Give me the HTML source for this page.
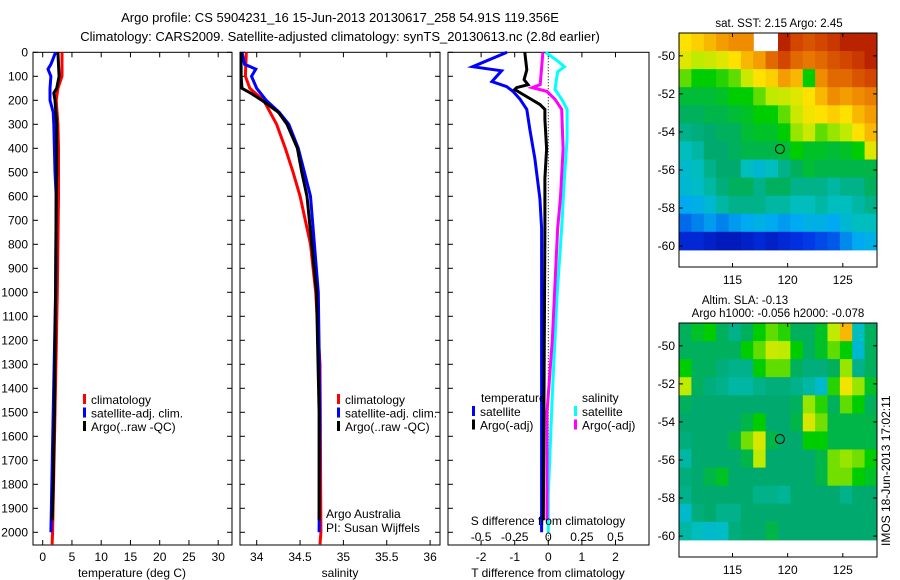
<!DOCTYPE html>
<html><head><meta charset="utf-8"><style>
html,body{margin:0;padding:0;background:#fff;}
svg{display:block;font-family:"Liberation Sans",sans-serif;font-size:12px;}
</style></head><body>
<svg id="fig" width="900" height="580" viewBox="0 0 900 580" xmlns="http://www.w3.org/2000/svg">
<text x="340" y="22" text-anchor="middle" font-size="13">Argo profile: CS 5904231_16 15-Jun-2013 20130617_258 54.91S 119.356E</text>
<text x="340" y="41" text-anchor="middle" font-size="13">Climatology: CARS2009. Satellite-adjusted climatology: synTS_20130613.nc (2.8d earlier)</text>
<g id="p1"></g>
<g id="p2"></g>
<g id="p3"></g>
<g id="m1"></g>
<g id="m2"></g>
<text transform="translate(890,546) rotate(-90)" font-size="12">IMOS 18-Jun-2013 17:02:11</text>
</svg>
<script>
// ---- profile data ----
const tempClimDepth=[0,100,150,200,300,400,600,1000,1500,2000,2050];
const tempClim=[3.3,3.3,2.6,2.3,2.6,2.7,2.7,2.5,2.1,1.7,1.6];
const tempSatDepth=[0,50,70,100,150,200,250,300,500,600,1000,1500,2000];
const tempSat=[2.2,1.4,0.9,1.4,1.25,1.25,1.8,1.9,2.1,2.3,2.2,1.8,1.4];
const tempArgoDepth=[0,100,150,170,200,300,500,600,1000,1500,1800,1950];
const tempArgo=[2.6,2.8,2.4,1.9,2.1,2.4,2.4,2.3,2.2,2.0,1.8,1.6];
const salClimDepth=[0,100,150,200,300,400,500,600,800,1000,1300,2000,2050];
const salClim=[33.88,33.87,33.92,34.08,34.23,34.33,34.42,34.5,34.62,34.68,34.73,34.74,34.73];
const salSatDepth=[0,50,70,100,150,200,250,300,400,500,600,1000,1500,2000];
const salSat=[33.83,33.86,33.99,33.94,34.0,34.11,34.26,34.37,34.48,34.55,34.62,34.71,34.73,34.72];
const salArgoDepth=[0,100,150,170,200,250,300,400,500,600,1000,1500,1950];
const salArgo=[33.82,33.82,33.83,33.93,34.06,34.25,34.35,34.47,34.52,34.58,34.69,34.72,34.72];
const dTSatDepth=[0,60,77,122,143,163,196,238,320,444,610,733,1200,2000];
const dTSat=[-1.23,-2.25,-1.39,-1.68,-1.24,-1.05,-0.84,-0.64,-0.55,-0.4,-0.25,-0.2,-0.2,-0.2];
const dTArgoDepth=[0,73,114,135,147,155,176,217,238,279,402,525,731,1200,1950];
const dTArgo=[-0.7,-0.64,-0.72,-0.6,-0.94,-1.0,-0.75,-0.25,-0.1,-0.1,-0.05,-0.1,-0.1,-0.12,-0.15];
const dSSatDepth=[0,32,60,81,114,155,196,238,361,525,731,1019,1431,1843,2000];
const dSSat=[-0.02,0.06,0.12,0.07,0.06,0.05,0.1,0.14,0.14,0.12,0.1,0.065,0.03,0.0,0.0];
const dSArgoDepth=[0,135,147,163,196,238,402,610,731,1200,1500,1950];
const dSArgo=[-0.04,-0.06,-0.12,-0.01,0.05,0.1,0.11,0.09,0.07,0.03,-0.01,-0.01];
const depthTicks=[0,100,200,300,400,500,600,700,800,900,1000,1100,1200,1300,1400,1500,1600,1700,1800,1900,2000];
const tempTicks=[0,5,10,15,20,25,30];
const salTicks=[34,34.5,35,35.5,36];
const salTickLabels=["34","34.5","35","35.5","36"];
const dTTicks=[-2,-1,0,1,2];
const dSTicks=[-0.5,-0.25,0,0.25,0.5];
const dSTickLabels=["-0.5","-0.25","0","0.25","0.5"];
// ---- map data (colormap index 0..1), rows north->south ----
const latTicks=[-50,-52,-54,-56,-58,-60];
const lonTicks=[115,120,125];
const sstGrid=[
[.7,.72,.75,.78,.8,.8,null,null,.95,.9,.88,.9,.92,.95,.95,.95],
[.65,.6,.62,.65,.7,.75,.78,.85,.9,.85,.83,.85,.88,.9,.92,.95],
[.55,.5,.5,.52,.55,.62,.7,.72,.78,.75,.5,.8,.85,.85,.88,.9],
[.47,.47,.47,.48,.5,.5,.55,.6,.62,.65,.7,.75,.8,.78,.8,.82],
[.45,.45,.46,.46,.47,.48,.5,.5,.55,.62,.68,.7,.72,.7,.75,.78],
[.42,.43,.44,.45,.45,.47,.48,.48,.5,.58,.62,.55,.58,.6,.7,.75],
[.38,.4,.44,.44,.45,.46,.46,.46,.47,.5,.48,.48,.47,.48,.5,.65],
[.36,.38,.42,.44,.44,.38,.35,.38,.42,.45,.47,.46,.46,.46,.46,.46],
[.35,.37,.4,.43,.45,.45,.42,.45,.45,.42,.42,.42,.4,.42,.42,.45],
[.3,.32,.35,.4,.42,.42,.42,.4,.4,.38,.38,.4,.38,.38,.4,.42],
[.22,.25,.28,.25,.28,.3,.32,.3,.28,.3,.32,.32,.3,.35,.38,.38],
[.12,.12,.1,.08,.08,.1,.12,.1,.12,.14,.16,.18,.2,.26,.3,.32]];
const slaGrid=[
[.45,.48,.5,.45,.42,.45,.5,.55,.52,.45,.45,.48,.6,.75,.38,.45],
[.45,.45,.45,.45,.45,.5,.55,.62,.6,.5,.45,.48,.55,.5,.35,.45],
[.5,.45,.45,.43,.42,.42,.5,.55,.55,.45,.43,.43,.45,.58,.42,.45],
[.6,.45,.43,.42,.4,.4,.42,.43,.43,.42,.4,.36,.52,.68,.58,.48],
[.45,.44,.44,.44,.44,.44,.44,.44,.44,.45,.58,.52,.45,.55,.5,.45],
[.44,.44,.44,.44,.44,.46,.5,.44,.44,.46,.64,.56,.46,.46,.46,.46],
[.43,.44,.44,.44,.46,.56,.64,.46,.44,.44,.5,.5,.46,.46,.46,.46],
[.4,.44,.44,.44,.44,.46,.6,.44,.44,.44,.44,.46,.56,.58,.56,.5],
[.43,.44,.46,.48,.44,.44,.44,.44,.44,.44,.44,.46,.56,.56,.5,.48],
[.42,.44,.44,.44,.44,.44,.42,.42,.41,.44,.44,.44,.44,.42,.44,.44],
[.36,.43,.44,.42,.42,.44,.44,.44,.44,.44,.44,.44,.44,.44,.44,.44],
[.4,.38,.36,.37,.43,.44,.44,.46,.44,.44,.44,.44,.44,.44,.44,.44]];
const floatLon=119.3, floatLat=-54.9;

const NS="http://www.w3.org/2000/svg";
function mk(parent,tag,attrs,txt){const e=document.createElementNS(NS,tag);for(const k in attrs)e.setAttribute(k,attrs[k]);if(txt!==undefined)e.textContent=txt;parent.appendChild(e);return e;}
const TOP=52.3, BOT=545, PXM=0.24;
const yD=d=>TOP+d*PXM;
function frame(g,x0,x1){const r=mk(g,'rect',{x:x0,y:TOP,width:x1-x0,height:BOT-TOP,fill:'none',stroke:'#000','stroke-width':1});
}
function line(g,xs,ds,sx,col,name,w){const pts=xs.map((v,i)=>sx(v).toFixed(1)+','+yD(ds[i]).toFixed(1)).join(' ');
const p=mk(g,'polyline',{points:pts,fill:'none',stroke:col,'stroke-width':w||3,'stroke-linejoin':'miter'});
}
function xticks(g,ticks,labels,sx,y,name){ticks.forEach((t,i)=>{const X=sx(t);
mk(g,'line',{x1:X,x2:X,y1:BOT,y2:BOT-5,stroke:'#000'});mk(g,'line',{x1:X,x2:X,y1:TOP,y2:TOP+5,stroke:'#000'});
const tx=mk(g,'text',{x:X,y:y,'text-anchor':'middle'},labels[i]);});}
function legend(g,x,y,items){items.forEach((it,i)=>{const yy=y+i*13.5;
const r=mk(g,'rect',{x:x,y:yy-10,width:3,height:10,fill:it[0]});
const t=mk(g,'text',{x:x+8,y:yy},it[1]);});}

// Panel 1
const p1=document.getElementById('p1');
const sx1=v=>42.7+v*5.85;
frame(p1,33,232);
depthTicks.forEach(d=>{mk(p1,'line',{x1:33,x2:38,y1:yD(d),y2:yD(d),stroke:'#000'});mk(p1,'line',{x1:227,x2:232,y1:yD(d),y2:yD(d),stroke:'#000'});
const t=mk(p1,'text',{x:28,y:yD(d)+4,'text-anchor':'end'},String(d));});
xticks(p1,tempTicks,tempTicks.map(String),sx1,561,'temperature-tick-label');
line(p1,tempClim,tempClimDepth,sx1,'#f00','temp-climatology-line');
line(p1,tempSat,tempSatDepth,sx1,'#00f','temp-satellite-line');
line(p1,tempArgo,tempArgoDepth,sx1,'#000','temp-argo-line');
legend(p1,83,404,[['#f00','climatology'],['#00f','satellite-adj. clim.'],['#000','Argo(..raw -QC)']]);
let t=mk(p1,'text',{x:132,y:577,'text-anchor':'middle'},'temperature (deg C)');

// Panel 2
const p2=document.getElementById('p2');
const sx2=v=>256.7+(v-34)*86.7;
frame(p2,240,440);
depthTicks.forEach(d=>{mk(p2,'line',{x1:240,x2:245,y1:yD(d),y2:yD(d),stroke:'#000'});mk(p2,'line',{x1:435,x2:440,y1:yD(d),y2:yD(d),stroke:'#000'});});
xticks(p2,salTicks,salTickLabels,sx2,561,'salinity-tick-label');
line(p2,salClim,salClimDepth,sx2,'#f00','sal-climatology-line');
line(p2,salSat,salSatDepth,sx2,'#00f','sal-satellite-line');
line(p2,salArgo,salArgoDepth,sx2,'#000','sal-argo-line');
legend(p2,337,404,[['#f00','climatology'],['#00f','satellite-adj. clim.'],['#000','Argo(..raw -QC)']]);
t=mk(p2,'text',{x:340,y:577,'text-anchor':'middle'},'salinity');
t=mk(p2,'text',{x:326,y:518},'Argo Australia');
t=mk(p2,'text',{x:326,y:532},'PI: Susan Wijffels');

// Panel 3
const p3=document.getElementById('p3');
const sxT=v=>548.3+v*33.6, sxS=v=>548.3+v*134.4;
frame(p3,448,649);
depthTicks.forEach(d=>{mk(p3,'line',{x1:448,x2:453,y1:yD(d),y2:yD(d),stroke:'#000'});});
mk(p3,'line',{x1:sxT(0),x2:sxT(0),y1:TOP,y2:BOT,stroke:'#000','stroke-dasharray':'1,2'});
xticks(p3,dTTicks,dTTicks.map(String),sxT,561,'t-diff-tick-label');
line(p3,dTSat,dTSatDepth,sxT,'#00f','t-diff-satellite-line');
line(p3,dTArgo,dTArgoDepth,sxT,'#000','t-diff-argo-line');
line(p3,dSSat,dSSatDepth,sxS,'#0ff','s-diff-satellite-line');
line(p3,dSArgo,dSArgoDepth,sxS,'#f0f','s-diff-argo-line');
dSTicks.forEach((v,i)=>{const tt=mk(p3,'text',{x:sxS(v),y:541,'text-anchor':'middle'},dSTickLabels[i]);});
t=mk(p3,'text',{x:548,y:525,'text-anchor':'middle'},'S difference from climatology');
t=mk(p3,'text',{x:548,y:577,'text-anchor':'middle'},'T difference from climatology');
t=mk(p3,'text',{x:481,y:402},'temperature');
t=mk(p3,'text',{x:582,y:402},'salinity');
legend(p3,472,416,[['#00f','satellite'],['#000','Argo(-adj)']]);
legend(p3,574,416,[['#0ff','satellite'],['#f0f','Argo(-adj)']]);

// Maps
const cmapStops=[[0,[0,0,140]],[0.15,[0,50,230]],[0.3,[0,170,240]],[0.38,[0,190,190]],[0.44,[0,170,110]],[0.5,[0,205,0]],[0.6,[190,235,0]],[0.7,[255,225,0]],[0.8,[240,140,0]],[0.9,[210,70,0]],[1,[160,0,0]]];
function cmap(v){for(let i=1;i<cmapStops.length;i++){if(v<=cmapStops[i][0]){const a=cmapStops[i-1],b=cmapStops[i],f=(v-a[0])/(b[0]-a[0]);
return 'rgb('+a[1].map((c,k)=>Math.round(c+(b[1][k]-c)*f)).join(',')+')';}}return 'rgb(160,0,0)';}
function map(id,grid,y0,titles){
const g=document.getElementById(id);
const L0=110.15,L1=128.1,LA0=-48.8,LA1=-61.1,X0=679,X1=877,H=234;
const sx=v=>X0+(v-L0)/(L1-L0)*(X1-X0), sy=v=>y0+(v-LA0)/(LA1-LA0)*H;
const gLat0=-48.8,gLat1=-60.2,rows=grid.length,cols=grid[0].length;
const dl=(L1-L0)/cols,dla=(gLat1-gLat0)/rows;
grid.forEach((row,r)=>row.forEach((v,c)=>{if(v===null)return;
const xa=sx(L0+c*dl),xb=sx(L0+(c+1)*dl),ya=sy(gLat0+r*dla),yb=sy(gLat0+(r+1)*dla);
const cell=mk(g,'rect',{x:xa.toFixed(1),y:ya.toFixed(1),width:(xb-xa+0.5).toFixed(1),height:(yb-ya+0.5).toFixed(1),fill:cmap(v)});
}));
const fr=mk(g,'rect',{x:X0,y:y0,width:X1-X0,height:H,fill:'none',stroke:'#000'});
latTicks.forEach(v=>{const Y=sy(v);mk(g,'line',{x1:X0,x2:X0+4,y1:Y,y2:Y,stroke:'#000'});mk(g,'line',{x1:X1-4,x2:X1,y1:Y,y2:Y,stroke:'#000'});
const tt=mk(g,'text',{x:X0-4,y:Y+4,'text-anchor':'end'},String(v));});
lonTicks.forEach(v=>{const X=sx(v);mk(g,'line',{x1:X,x2:X,y1:y0+H,y2:y0+H-4,stroke:'#000'});mk(g,'line',{x1:X,x2:X,y1:y0,y2:y0+4,stroke:'#000'});
const tt=mk(g,'text',{x:X,y:y0+H+17,'text-anchor':'middle'},String(v));});
const ci=mk(g,'circle',{cx:sx(floatLon),cy:sy(floatLat),r:4.5,fill:'none',stroke:'#000'});
titles.forEach((tx,i)=>{const te=mk(g,'text',{x:tx[1],y:tx[2],'text-anchor':'middle','font-size':11.5},tx[0]);});
}
map('m1',sstGrid,33,[['sat. SST: 2.15 Argo: 2.45',779,27]]);
map('m2',slaGrid,323,[['Altim. SLA: -0.13',745,304],['Argo h1000: -0.056 h2000: -0.078',778,317]]);
</script>
</body></html>
